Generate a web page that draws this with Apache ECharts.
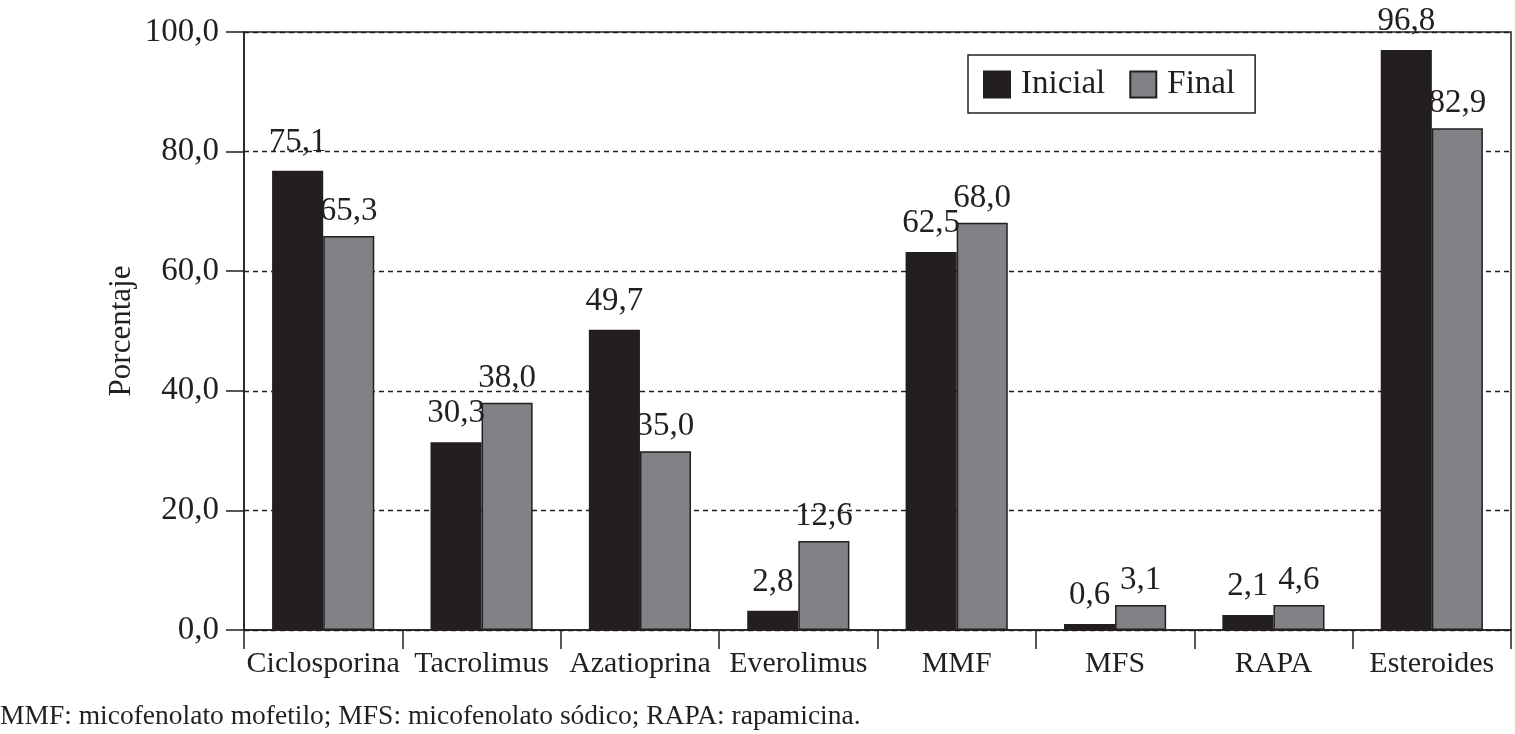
<!DOCTYPE html>
<html>
<head>
<meta charset="utf-8">
<script src="https://cdn.jsdelivr.net/npm/echarts@6/dist/echarts.min.js"></script>
<style>html,body{margin:0;padding:0;background:#fff}#c{width:1515px;height:734px}</style>
</head>
<body>
<div id="c"></div>
<script>
const categories = ['Ciclosporina','Tacrolimus','Azatioprina','Everolimus','MMF','MFS','RAPA','Esteroides'];
const inicialValues = [76.8, 31.4, 50.2, 3.2, 63.2, 1.0, 2.5, 97.0];
const finalValues = [65.9, 38.0, 29.9, 14.9, 68.1, 4.2, 4.2, 83.9];
const inicialLabels = ['75,1','30,3','49,7','2,8','62,5','0,6','2,1','96,8'];
const finalLabels = ['65,3','38,0','35,0','12,6','68,0','3,1','4,6','82,9'];
const yTicks = [0, 20, 40, 60, 80, 100];
const footnote = 'MMF: micofenolato mofetilo; MFS: micofenolato sódico; RAPA: rapamicina.';

const FONT = '"Liberation Serif", "DejaVu Serif", serif';
const chart = echarts.init(document.getElementById('c'));
chart.setOption({
  animation: false,
  textStyle: { fontFamily: FONT, color: '#231f20' },
  grid: { left: 244, right: 4, top: 32, bottom: 104, show: true, borderColor: '#231f20', borderWidth: 1.5, containLabel: false },
  legend: {
    left: 968, top: 55,
    padding: [13, 20, 12, 15],
    itemGap: 24, itemWidth: 26, itemHeight: 26,
    borderColor: '#231f20', borderWidth: 1.5,
    icon: 'rect',
    textStyle: { fontFamily: FONT, fontSize: 33, color: '#231f20', padding: [0, 0, 0, 6] },
    data: ['Inicial', 'Final']
  },
  xAxis: {
    type: 'category', data: categories,
    axisLine: { lineStyle: { color: '#231f20', width: 1.5 } },
    axisTick: { show: true, length: 19, lineStyle: { color: '#231f20', width: 1.5 } },
    axisLabel: { fontFamily: FONT, fontSize: 30, color: '#231f20', margin: 19, interval: 0 }
  },
  yAxis: {
    type: 'value', min: yTicks[0], max: yTicks[yTicks.length - 1], interval: 20,
    name: 'Porcentaje', nameLocation: 'middle', nameGap: 107, nameRotate: 90,
    nameMoveOverlap: false,
    nameTextStyle: { fontFamily: FONT, fontSize: 31, color: '#231f20' },
    axisLine: { show: true, lineStyle: { color: '#231f20', width: 1.5 } },
    axisTick: { show: true, length: 18, lineStyle: { color: '#231f20', width: 1.5 } },
    axisLabel: { fontFamily: FONT, fontSize: 33, color: '#231f20', margin: 25,
      formatter: v => v.toFixed(1).replace('.', ',') },
    splitLine: { show: true, lineStyle: { color: '#231f20', type: [5, 4], width: 1.3 } }
  },
  series: [
    {
      name: 'Inicial', type: 'bar', data: inicialValues,
      barGap: '0%', barCategoryGap: '35.5%',
      itemStyle: { color: '#231f20', borderColor: '#231f20', borderWidth: 1.5 },
      label: { show: true, position: 'top', distance: 12, fontFamily: FONT, fontSize: 33, color: '#231f20',
        formatter: p => inicialLabels[p.dataIndex] }
    },
    {
      name: 'Final', type: 'bar', data: finalValues,
      barGap: '0%', barCategoryGap: '35.5%',
      itemStyle: { color: '#808285', borderColor: '#231f20', borderWidth: 1.5 },
      label: { show: true, position: 'top', distance: 8, fontFamily: FONT, fontSize: 33, color: '#231f20',
        formatter: p => finalLabels[p.dataIndex] }
    }
  ],
  graphic: [{
    type: 'text', left: 0, top: 703,
    style: { text: footnote, font: '27.5px ' + FONT, fill: '#231f20' }
  }]
});
</script>
</body>
</html>
